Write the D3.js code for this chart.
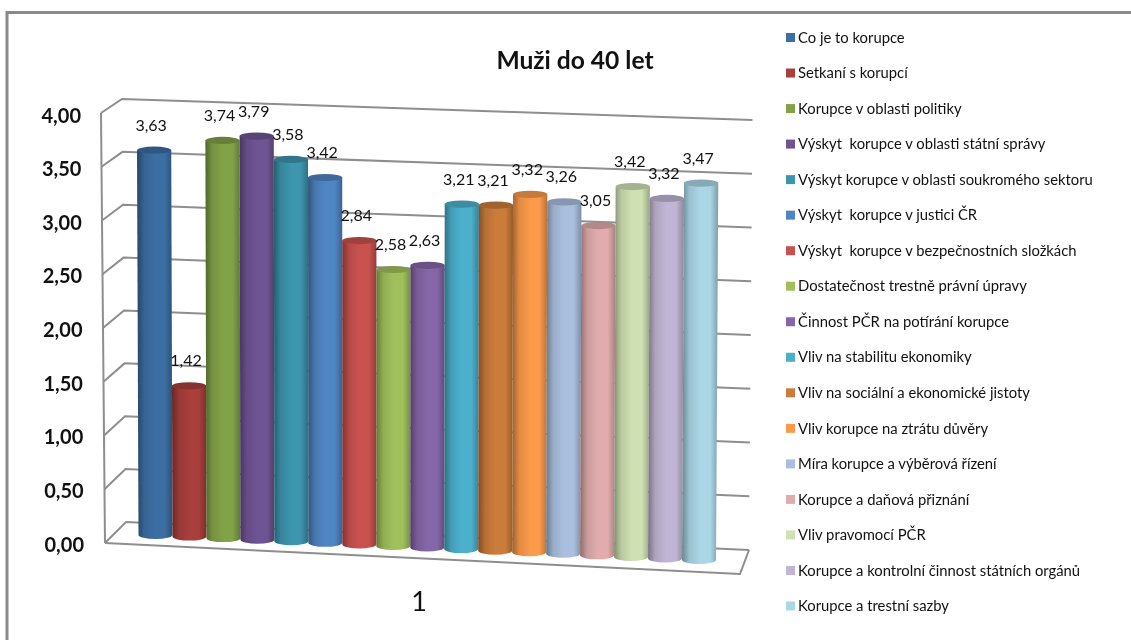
<!DOCTYPE html>
<html>
<head>
<meta charset="utf-8">
<script src="https://cdn.jsdelivr.net/npm/d3@7"></script>
<style>
    html, body { margin: 0; padding: 0; background: #fff; }
    svg { display: block; filter: blur(0.5px); }
    text { font-family: Lato, Carlito, sans-serif; fill: #111; white-space: pre; }
</style>
</head>
<body>
<svg id="chart" width="1131" height="640"></svg>
<script>
var series = [
    "Co je to korupce", "Setkaní s korupcí", "Korupce v oblasti politiky",
    "Výskyt  korupce v oblasti státní správy", "Výskyt korupce v oblasti soukromého sektoru",
    "Výskyt  korupce v justici ČR", "Výskyt  korupce v bezpečnostních složkách",
    "Dostatečnost trestně právní úpravy", "Činnost PČR na potírání korupce",
    "Vliv na stabilitu ekonomiky", "Vliv na sociální a ekonomické jistoty",
    "Vliv korupce na ztrátu důvěry", "Míra korupce a výběrová řízení",
    "Korupce a daňová přiznání", "Vliv pravomocí PČR",
    "Korupce a kontrolní činnost státních orgánů", "Korupce a trestní sazby"
]
var values = [3.63, 1.42, 3.74, 3.79, 3.58, 3.42, 2.84, 2.58, 2.63, 3.21, 3.21, 3.32, 3.26, 3.05, 3.42, 3.32, 3.47]
var colors = [
    "#3c6ea3", "#a83f3d", "#82a248", "#6f5494", "#3d95ae", "#5085c4", "#c9524f", "#a0c05c", "#8566a8",
    "#4cb0cc", "#cc7c3a", "#fa9a4a", "#aabfdf", "#e2acae", "#cfe0b2", "#c0b5d4", "#aad6e6"
]
var ticks = [0, 0.5, 1, 1.5, 2, 2.5, 3, 3.5, 4]
var title = "Muži do 40 let"
var category = "1"

var svg = d3.select("#chart")
var comma = d => d3.format(".2f")(d).replace(".", ",")

// outer frame of the pasted chart
svg.append("path")
    .attr("d", "M7,640 V12.5 H1131")
    .attr("fill", "none")
    .attr("stroke", "#8a8a8a")
    .attr("stroke-width", 3)

// the perspective box: y scales at the front left, back left and back right corners
var yFront = d3.scaleLinear().domain([0, 4]).range([543, 113])
var yBackL = d3.scaleLinear().domain([0, 4]).range([522, 99])
var yBackR = d3.scaleLinear().domain([0, 4]).range([550, 120])
var xFront = d3.scaleLinear().domain([0, 4]).range([105, 101])
var xBackL = d3.scaleLinear().domain([0, 4]).range([126, 122])
var xBackR = d3.scaleLinear().domain([0, 4]).range([749, 752.5])

var wall = svg.append("g")
    .attr("fill", "none")
    .attr("stroke", "#8e8e8e")
    .attr("stroke-width", 2)

wall.selectAll("polyline")
    .data(ticks)
    .enter()
    .append("polyline")
    .attr("points", d => [
        [xFront(d), yFront(d)], [xBackL(d), yBackL(d)], [xBackR(d), yBackR(d)]
    ].join(" "))

wall.append("line")
    .attr("x1", xFront(0)).attr("y1", yFront(0))
    .attr("x2", xFront(4)).attr("y2", yFront(4))

wall.append("polyline")
    .attr("points", [[xFront(0), yFront(0)], [740, 574], [xBackR(0), yBackR(0)]].join(" "))

// value axis
var yAxis = d3.scaleLinear().domain([0, 4]).range([544, 115])
svg.append("g")
    .call(d3.axisLeft(yAxis).tickValues(ticks).tickFormat(comma).tickSize(0))
    .call(g => g.select(".domain").remove())
    .selectAll("text")
    .attr("x", d => 84 - d * 0.75)
    .attr("dy", "0.35em")
    .style("font-size", "20px")
    .style("font-weight", "700")
    .style("fill", "#111")

// cylinders lean a little with the perspective, so tops and bases have their own x scales
var xTop = d3.scaleBand().domain(series).range([137, 718.4])
var xBase = d3.scaleBand().domain(series).range([138.5, 716])
var baseY = d3.scaleLinear().domain([0, series.length - 1]).range([535, 560])
var unit = d3.scaleLinear().domain([0, series.length - 1]).range([106, 108.6])

var bars = series.map((s, i) => {
    var t = values[i] / 3.7
    var x0 = xBase(s) + (xTop(s) - xBase(s)) * t
    return {
        name: s, value: values[i], color: colors[i], i: i,
        x0: x0, w: xTop.bandwidth(),
        bx: xBase(s), bw: xBase.bandwidth(),
        by: baseY(i), ty: baseY(i) - values[i] * unit(i)
    }
})

var defs = svg.append("defs")
var grads = defs.selectAll("linearGradient")
    .data(bars)
    .enter()
    .append("linearGradient")
    .attr("id", d => "g" + d.i)

grads.selectAll("stop")
    .data(d => [
        [0, d3.color(d.color).darker(1.3)],
        [0.2, d3.color(d.color).darker(0.3)],
        [0.5, d3.color(d.color)],
        [0.78, d3.color(d.color)],
        [1, d3.color(d.color).darker(0.85)]
    ])
    .enter()
    .append("stop")
    .attr("offset", d => d[0])
    .attr("stop-color", d => d[1])

var bar = svg.append("g")
    .selectAll("g")
    .data(bars)
    .enter()
    .append("g")

bar.append("path")
    .attr("fill", d => "url(#g" + d.i + ")")
    .attr("d", d => "M" + d.x0 + "," + d.ty
        + " L" + (d.x0 + d.w) + "," + d.ty
        + " L" + (d.bx + d.bw) + "," + d.by
        + " A" + (d.bw / 2) + ",4 0 0 1 " + d.bx + "," + d.by + " Z")

bar.append("ellipse")
    .attr("cx", d => d.x0 + d.w / 2)
    .attr("cy", d => d.ty)
    .attr("rx", d => d.w / 2)
    .attr("ry", 3.6)
    .attr("fill", d => d3.color(d.color).darker(0.65))

svg.append("g")
    .selectAll("text")
    .data(bars)
    .enter()
    .append("text")
    .attr("x", d => d.x0 + d.w / 2 - 3)
    .attr("y", d => d.ty - 25)
    .attr("dy", "0.35em")
    .attr("text-anchor", "middle")
    .style("font-size", "16px")
    .text(d => comma(d.value))

svg.append("text")
    .attr("x", 575)
    .attr("y", 69)
    .attr("text-anchor", "middle")
    .style("font-size", "24.6px")
    .style("font-weight", "700")
    .text(title)

svg.append("text")
    .attr("x", 419)
    .attr("y", 611)
    .attr("text-anchor", "middle")
    .style("font-size", "27px")
    .text(category)

// legend
var yLegend = d3.scalePoint().domain(series).range([37.5, 606])
var legend = svg.append("g")
    .selectAll("g")
    .data(bars)
    .enter()
    .append("g")
    .attr("transform", d => "translate(786," + yLegend(d.name) + ")")

legend.append("rect")
    .attr("y", -4.5)
    .attr("width", 9)
    .attr("height", 9)
    .attr("fill", d => d.color)

legend.append("text")
    .attr("x", 12)
    .attr("dy", "0.35em")
    .style("font-size", "14.8px")
    .text(d => d.name)
</script>
</body>
</html>
